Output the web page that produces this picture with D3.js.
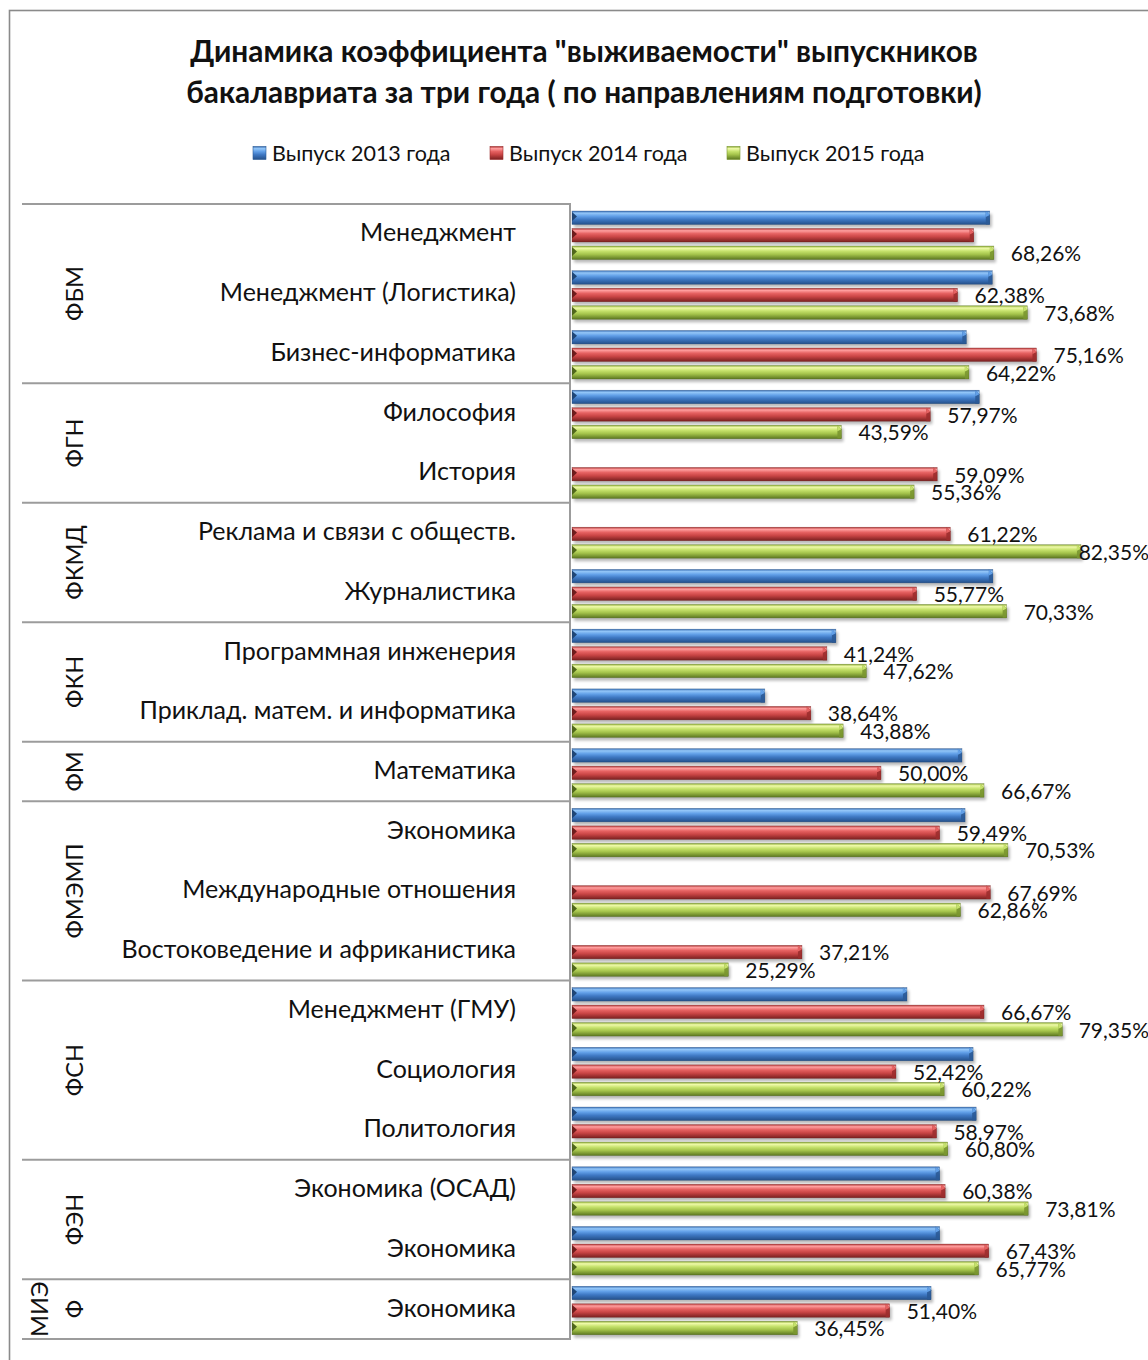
<!DOCTYPE html>
<html lang="ru">
<head>
<meta charset="utf-8">
<script src="https://cdn.jsdelivr.net/npm/d3@7"></script>
<style>
  html, body { margin: 0; padding: 0; background: #fff; }
  svg { display: block; font-family: Lato, "Noto Sans", sans-serif; }
</style>
</head>
<body>
<svg id="chart" width="1148" height="1360"></svg>
<script>
// Survival rate of bachelor graduates by programme, three graduating classes
const titleLines = [
  "Динамика коэффициента \"выживаемости\" выпускников",
  "бакалавриата за три года ( по направлениям подготовки)"
];
const seriesNames = ["Выпуск 2013 года", "Выпуск 2014 года", "Выпуск 2015 года"];

const categories = [
  "Менеджмент", "Менеджмент (Логистика)", "Бизнес-информатика",
  "Философия", "История",
  "Реклама и связи с обществ.", "Журналистика",
  "Программная инженерия", "Приклад. матем. и информатика",
  "Математика",
  "Экономика", "Международные отношения", "Востоковедение и африканистика",
  "Менеджмент (ГМУ)", "Социология", "Политология",
  "Экономика (ОСАД)", "Экономика",
  "Экономика"
];
const groupNames = ["ФБМ", "ФГН", "ФКМД", "ФКН", "ФМ", "ФМЭМП", "ФСН", "ФЭН", "МИЭФ"];
const groupSizes = [3, 2, 2, 2, 1, 3, 3, 2, 1];

// Values in percent; null = no graduates in that year
const values2013 = [67.6, 68.0, 63.8, 65.9, null, null, 68.1, 42.7, 31.2, 63.1, 63.6, null, null, 54.2, 64.9, 65.4, 59.5, 59.5, 58.1];
const values2014 = [65.0, 62.38, 75.16, 57.97, 59.09, 61.22, 55.77, 41.24, 38.64, 50.00, 59.49, 67.69, 37.21, 66.67, 52.42, 58.97, 60.38, 67.43, 51.40];
const values2015 = [68.26, 73.68, 64.22, 43.59, 55.36, 82.35, 70.33, 47.62, 43.88, 66.67, 70.53, 62.86, 25.29, 79.35, 60.22, 60.80, 73.81, 65.77, 36.45];
// which values carry a data label
const labelled2013 = categories.map(() => false);
const labelled2014 = categories.map((_, i) => i !== 0);
const labelled2015 = categories.map(() => true);

const series = [
  { name: seriesNames[0], values: values2013, labelled: labelled2013, key: "blue" },
  { name: seriesNames[1], values: values2014, labelled: labelled2014, key: "red" },
  { name: seriesNames[2], values: values2015, labelled: labelled2015, key: "green" }
];

const palette = {
  blue:  { stops: ["#3a6fb5", "#93c6f8", "#62a0e8", "#3f79c4", "#24508a"], dark: "#1f4677", cap: "#2b5a96" },
  red:   { stops: ["#b03636", "#ff9f9f", "#e66262", "#c94545", "#7a2020"], dark: "#6e1c1c", cap: "#9c2e2e" },
  green: { stops: ["#8eae36", "#effaa9", "#c6e26c", "#a4c34b", "#5c7720"], dark: "#4f661b", cap: "#7a9630" }
};
const stopOffsets = [0, 0.16, 0.38, 0.62, 1];

const svg = d3.select("#chart");
const W = 1148;
const plotTop = 204, plotBottom = 1339, axisX = 570, leftX = 22, barX0 = 572;
const valueLimitX = 1149;

// gradients and shadow
const defs = svg.append("defs");
Object.entries(palette).forEach(([k, p]) => {
  const g = defs.append("linearGradient").attr("id", "grad-" + k)
    .attr("x1", 0).attr("y1", 0).attr("x2", 0).attr("y2", 1);
  p.stops.forEach((c, i) => g.append("stop").attr("offset", stopOffsets[i]).attr("stop-color", c));
});
const f = defs.append("filter").attr("id", "shadow").attr("x", "-5%").attr("y", "-50%").attr("width", "110%").attr("height", "200%");
f.append("feGaussianBlur").attr("stdDeviation", 1.4);

// outer frame
svg.append("rect").attr("x", 9.5).attr("y", 10.5).attr("width", W + 20).attr("height", 1380)
  .attr("fill", "#fff").attr("stroke", "#8a8a8a").attr("stroke-width", 1.6);

// title
svg.append("g").selectAll("text").data(titleLines).join("text")
  .attr("x", 584).attr("y", (d, i) => 62 + i * 41)
  .attr("text-anchor", "middle").attr("font-weight", 700).attr("font-size", 29.8)
  .attr("fill", "#111").text(d => d);

// legend
const legendX = [253, 490, 727];
const lg = svg.append("g").selectAll("g").data(series).join("g")
  .attr("transform", (d, i) => `translate(${legendX[i]},153)`);
lg.append("rect").attr("x", 0).attr("y", -6.5).attr("width", 13).attr("height", 13)
  .attr("fill", d => `url(#grad-${d.key})`).attr("stroke", d => palette[d.key].cap).attr("stroke-width", 0.6);
lg.append("text").attr("x", 19).attr("y", 7.5).attr("font-size", 21.5).attr("fill", "#111").text(d => d.name);

// scales
const x = d3.scaleLinear().domain([0, 100]).range([barX0, barX0 + 618]);
const y = d3.scaleBand().domain(d3.range(categories.length)).range([plotTop, plotBottom]);
const ySer = d3.scaleBand().domain(d3.range(series.length)).range([7, 55.5]).paddingInner(0.23);

// category labels
svg.append("g").selectAll("text").data(categories).join("text")
  .attr("x", 516).attr("y", (d, i) => y(i) + y.bandwidth() / 2)
  .attr("dy", "0.3em").attr("text-anchor", "end").attr("font-size", 25)
  .attr("fill", "#111").text(d => d);

// faculty groups: separators and rotated names
const groupStarts = groupSizes.map((s, i) => d3.sum(groupSizes.slice(0, i)));
const lineYs = groupStarts.map(s => y(s)).concat([plotBottom]);
svg.append("g").selectAll("line").data(lineYs).join("line")
  .attr("x1", leftX).attr("x2", axisX).attr("y1", d => d).attr("y2", d => d)
  .attr("stroke", "#9c9c9c").attr("stroke-width", 2);
svg.append("line").attr("x1", axisX).attr("x2", axisX).attr("y1", plotTop - 1).attr("y2", plotBottom + 1)
  .attr("stroke", "#9c9c9c").attr("stroke-width", 2);

const lastGroup = groupNames.length - 1;
const gl = svg.append("g").selectAll("text").data(groupNames).join("text")
  .attr("font-size", 23.5).attr("fill", "#111").attr("text-anchor", "middle")
  .attr("transform", (d, i) => {
    const cy = (y(groupStarts[i]) + y(groupStarts[i] + groupSizes[i] - 1) + y.bandwidth()) / 2;
    return `translate(${i === lastGroup ? 40 : 75},${cy}) rotate(-90)`;
  });
gl.each(function (d, i) {
  const t = d3.select(this);
  if (i === lastGroup) {
    // narrow band: the name wraps onto a second line
    t.append("tspan").attr("x", 0).attr("dy", "0.35em").text(d.slice(0, 3));
    t.append("tspan").attr("x", 0).attr("dy", "1.5em").text(d.slice(3));
  } else {
    t.attr("dy", "0.35em").text(d);
  }
});

// bars
const bars = [];
series.forEach((s, si) => s.values.forEach((v, ci) => {
  if (v != null) bars.push({ s, si, ci, v });
}));
const bh = ySer.bandwidth();
const bg = svg.append("g").selectAll("g").data(bars).join("g")
  .attr("transform", d => `translate(0,${y(d.ci) + ySer(d.si)})`);
bg.append("rect").attr("x", barX0 + 2).attr("y", 3).attr("width", d => x(d.v) - barX0)
  .attr("height", bh).attr("fill", "#000").attr("opacity", 0.28).attr("filter", "url(#shadow)");
bg.append("rect").attr("x", barX0).attr("y", 0).attr("width", d => x(d.v) - barX0)
  .attr("height", bh).attr("fill", d => `url(#grad-${d.s.key})`);
// bevelled end
bg.append("path").attr("d", d => {
  const e = x(d.v);
  return `M${e - 4},0 L${e},${bh * 0.3} L${e},${bh} L${e - 4},${bh} Z`;
}).attr("fill", d => palette[d.s.key].cap).attr("opacity", 0.9);
bg.append("path").attr("d", d => {
  const e = x(d.v);
  return `M${e - 4},0 L${e},${bh * 0.3} L${e - 4},${bh * 0.45} Z`;
}).attr("fill", d => palette[d.s.key].stops[2]);
// bevel at the root
bg.append("path").attr("d", `M${barX0},1 L${barX0 + 5},${bh * 0.4} L${barX0},${bh * 0.75} Z`)
  .attr("fill", d => palette[d.s.key].dark);
bg.append("rect").attr("x", barX0).attr("y", 0).attr("width", d => x(d.v) - barX0)
  .attr("height", bh).attr("fill", "none").attr("stroke", d => palette[d.s.key].dark)
  .attr("stroke-width", 0.5).attr("stroke-opacity", 0.6);

// value labels
const fmt = v => v.toFixed(2).replace(".", ",") + "%";
const lab = svg.append("g").selectAll("text").data(bars.filter(d => d.s.labelled[d.ci])).join("text")
  .attr("x", d => x(d.v) + 17).attr("y", d => y(d.ci) + ySer(d.si) + bh / 2 + 1)
  .attr("dy", "0.35em").attr("font-size", 21).attr("fill", "#111").text(d => fmt(d.v));
lab.each(function () {
  const w = this.getComputedTextLength();
  const cx = +this.getAttribute("x");
  if (cx + w > valueLimitX) this.setAttribute("x", valueLimitX - w);
});
</script>
</body>
</html>
